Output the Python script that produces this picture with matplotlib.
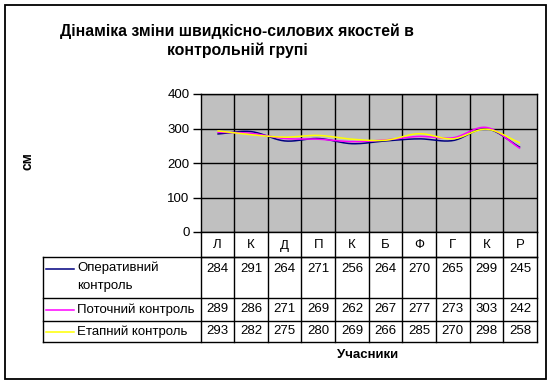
import numpy as np
import matplotlib
matplotlib.use("Agg")
import matplotlib.pyplot as plt
from matplotlib.patches import Rectangle

plt.rcParams['font.family'] = ['Liberation Sans', 'DejaVu Sans']

title = "Дінаміка зміни швидкісно-силових якостей в\nконтрольній групі"
categories = ["Л", "К", "Д", "П", "К", "Б", "Ф", "Г", "К", "Р"]
series_names = ["Оперативний\nконтроль", "Поточний контроль", "Етапний контроль"]
operative = [284, 291, 264, 271, 256, 264, 270, 265, 299, 245]
current = [289, 286, 271, 269, 262, 267, 277, 273, 303, 242]
stage = [293, 282, 275, 280, 269, 266, 285, 270, 298, 258]
series = [operative, current, stage]
colors = ["#000080", "#FF00FF", "#FFFF00"]
y_ticks = [0, 100, 200, 300, 400]
y_label = "см"
x_label = "Учасники"

W, H = 552, 384
fig = plt.figure(figsize=(W / 100, H / 100), dpi=100)
fig.patch.set_facecolor("white")

# pixel layout
PL, PR, PT, PB = 200.5, 537, 94, 232
TL = 42.5
row_edges = [232, 257, 298, 320.5, 342]

ax = fig.add_axes([PL / W, 1 - PB / H, (PR - PL) / W, (PB - PT) / H])
ax.set_facecolor("#C0C0C0")
n = len(categories)
ax.set_xlim(0, n)
ax.set_ylim(0, 400)
ax.set_yticks(y_ticks)
ax.set_yticklabels([str(v) for v in y_ticks], fontsize=9.5)
ax.tick_params(axis='y', length=6, width=1, pad=2, color="black")
ax.set_xticks([])
for s in ax.spines.values():
    s.set_linewidth(1)
    s.set_color("black")
for v in y_ticks:
    ax.axhline(v, color="black", lw=1)
for i in range(1, n):
    ax.axvline(i, color="black", lw=1)


def smooth(xs, ys, steps=20):
    xs = np.asarray(xs, float)
    ys = np.asarray(ys, float)
    px = np.concatenate([[2 * xs[0] - xs[1]], xs, [2 * xs[-1] - xs[-2]]])
    py = np.concatenate([[2 * ys[0] - ys[1]], ys, [2 * ys[-1] - ys[-2]]])
    ox, oy = [], []
    for i in range(1, len(px) - 2):
        t = np.linspace(0, 1, steps, endpoint=(i == len(px) - 3))
        for p, o in ((px, ox), (py, oy)):
            p0, p1, p2, p3 = p[i - 1], p[i], p[i + 1], p[i + 2]
            o.extend(0.5 * ((2 * p1) + (-p0 + p2) * t +
                            (2 * p0 - 5 * p1 + 4 * p2 - p3) * t ** 2 +
                            (-p0 + 3 * p1 - 3 * p2 + p3) * t ** 3))
    return np.array(ox), np.array(oy)


xc = np.arange(n) + 0.5
for vals, c in zip(series, colors):
    sx, sy = smooth(xc, vals)
    ax.plot(sx, sy, color=c, lw=1.1, solid_capstyle='butt')

# overlay in pixel coordinates
ov = fig.add_axes([0, 0, 1, 1])
ov.set_xlim(0, W)
ov.set_ylim(H, 0)
ov.axis("off")
ov.patch.set_alpha(0)

ov.add_patch(Rectangle((5, 5), 541, 374, fill=False, ec="black", lw=1.3))

ov.text(237, 41, title, ha="center", va="center", fontsize=11.4,
        fontweight="bold", linespacing=1.3)
ov.text(28, 161, y_label, ha="center", va="center", rotation=90,
        fontsize=10, fontweight="bold")
ov.text(368, 355, x_label, ha="center", va="center",
        fontsize=9.5, fontweight="bold")

# table
colw = (PR - PL) / n
lk = dict(color="black", lw=1)
ov.plot([PL, PR], [row_edges[1], row_edges[1]], **lk)
for i in range(n + 1):
    xx = PL + i * colw
    ov.plot([xx, xx], [row_edges[0], row_edges[-1]], **lk)
for i, c in enumerate(categories):
    ov.text(PL + (i + 0.5) * colw, (row_edges[0] + row_edges[1]) / 2 + 1, c,
            ha="center", va="center", fontsize=9.5)
for y in row_edges[1:]:
    ov.plot([TL, PR], [y, y], **lk)
ov.plot([TL, TL], [row_edges[1], row_edges[-1]], **lk)

row_text_y = [269, 309.5, 331.5]
for r, (name, vals, c) in enumerate(zip(series_names, series, colors)):
    ty = row_text_y[r]
    ov.plot([46, 74], [ty, ty], color=c, lw=1.1)
    if r == 0:
        ov.text(77, ty - 7, name, ha="left", va="top", fontsize=9.5,
                linespacing=1.6)
    else:
        ov.text(77, ty, name, ha="left", va="center", fontsize=9.5)
    for i, v in enumerate(vals):
        ov.text(PL + (i + 0.5) * colw, ty, str(v), ha="center", va="center",
                fontsize=9.5)

fig.savefig("out.png", dpi=100)
